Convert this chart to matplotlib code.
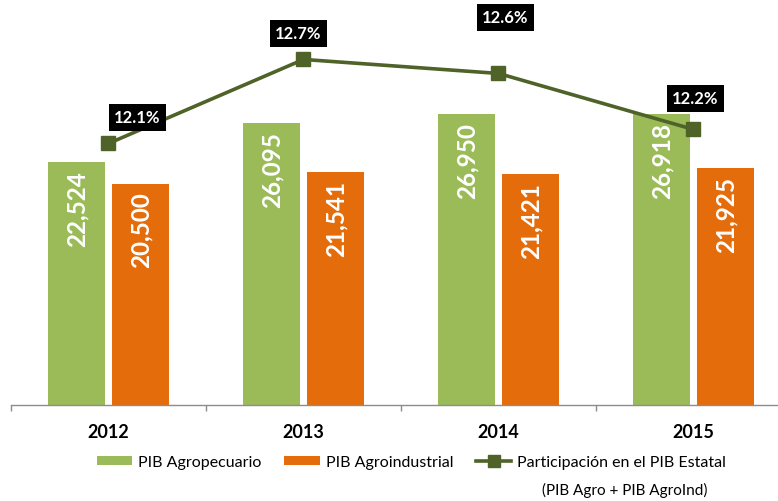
import matplotlib
matplotlib.use('Agg')
import matplotlib.pyplot as plt
from matplotlib.patches import Patch
from matplotlib.lines import Line2D
import numpy as np

plt.rcParams['font.family'] = ['Lato', 'DejaVu Sans']

years = ['2012', '2013', '2014', '2015']
pib_agropecuario = [22524, 26095, 26950, 26918]
pib_agroindustrial = [20500, 21541, 21421, 21925]
participacion = [12.1, 12.7, 12.6, 12.2]

GREEN = '#9BBB59'
ORANGE = '#E46C0A'
DARK = '#4F6228'
AXIS_GRAY = '#8C8C8C'

W, H = 778, 502
fig = plt.figure(figsize=(W / 100, H / 100), dpi=100)
ax = fig.add_axes([11 / W, 96 / H, 780 / W, 401 / H])

x = np.arange(len(years))
ax.bar(x - 0.164, pib_agropecuario, width=0.297, color=GREEN)
ax.bar(x + 0.164, pib_agroindustrial, width=0.295, color=ORANGE)
ax.set_xlim(-0.5, 3.5)
ax.set_ylim(0, 401 * 92.6)

# value labels inside the top of each bar
for xs, vals in ((x - 0.164, pib_agropecuario), (x + 0.164, pib_agroindustrial)):
    for xi, v in zip(xs, vals):
        ax.annotate(f'{v:,}', xy=(xi, v), xytext=(1, -8), textcoords='offset pixels',
                    rotation=90, ha='center', va='top', color='white',
                    fontsize=17.5, fontweight='bold')

# category boundaries as ticks, year names below the axis
ax.set_xticks([-0.5, 0.5, 1.5, 2.5, 3.5])
ax.set_xticklabels([])
ax.tick_params(axis='x', length=4.3, width=1, color=AXIS_GRAY, direction='out')
ax.set_yticks([])
for s in ('top', 'left', 'right'):
    ax.spines[s].set_visible(False)
ax.spines['bottom'].set_color(AXIS_GRAY)
ax.spines['bottom'].set_linewidth(1)

for xi, yr in zip(x, years):
    ax.annotate(yr, xy=(xi, 0), xycoords=('data', 'axes fraction'),
                xytext=(0, -27), textcoords='offset pixels',
                ha='center', va='center', fontsize=13, fontweight='bold')

# share of state GDP on a secondary scale
ax2 = ax.twinx()
ax2.set_ylim(10.232, 13.096)
ax2.plot(x, participacion, color=DARK, lw=2.6, marker='s', ms=10,
         markerfacecolor=DARK, markeredgecolor=DARK)
ax2.set_yticks([])
for s in ax2.spines.values():
    s.set_visible(False)

label_offsets = [(29, 26), (-5, 26), (7, 56), (2, 31)]
for xi, v, (dx, dy) in zip(x, participacion, label_offsets):
    ax2.annotate(f'{v:.1f}%', xy=(xi, v), xytext=(dx, dy), textcoords='offset pixels',
                 ha='center', va='center', color='white', fontsize=12, fontweight='bold',
                 bbox=dict(boxstyle='square,pad=0.32', fc='black', ec='none'))

handles = [
    Patch(facecolor=GREEN, edgecolor='none'),
    Patch(facecolor=ORANGE, edgecolor='none'),
    Line2D([], [], color=DARK, lw=2.6, marker='s', ms=8),
]
labels = ['PIB Agropecuario', 'PIB Agroindustrial', 'Participación en el PIB Estatal']
fig.legend(handles, labels, loc='center', bbox_to_anchor=(411.5 / W, 39 / H),
           bbox_transform=fig.transFigure, ncol=3, frameon=False, fontsize=11.5,
           handlelength=2.2, handletextpad=0.38, columnspacing=1.45, handleheight=0.5)
fig.text(625 / W, 12 / H, '(PIB Agro + PIB AgroInd)', ha='center', va='center',
         fontsize=11)

fig.savefig('out.png', dpi=100)
